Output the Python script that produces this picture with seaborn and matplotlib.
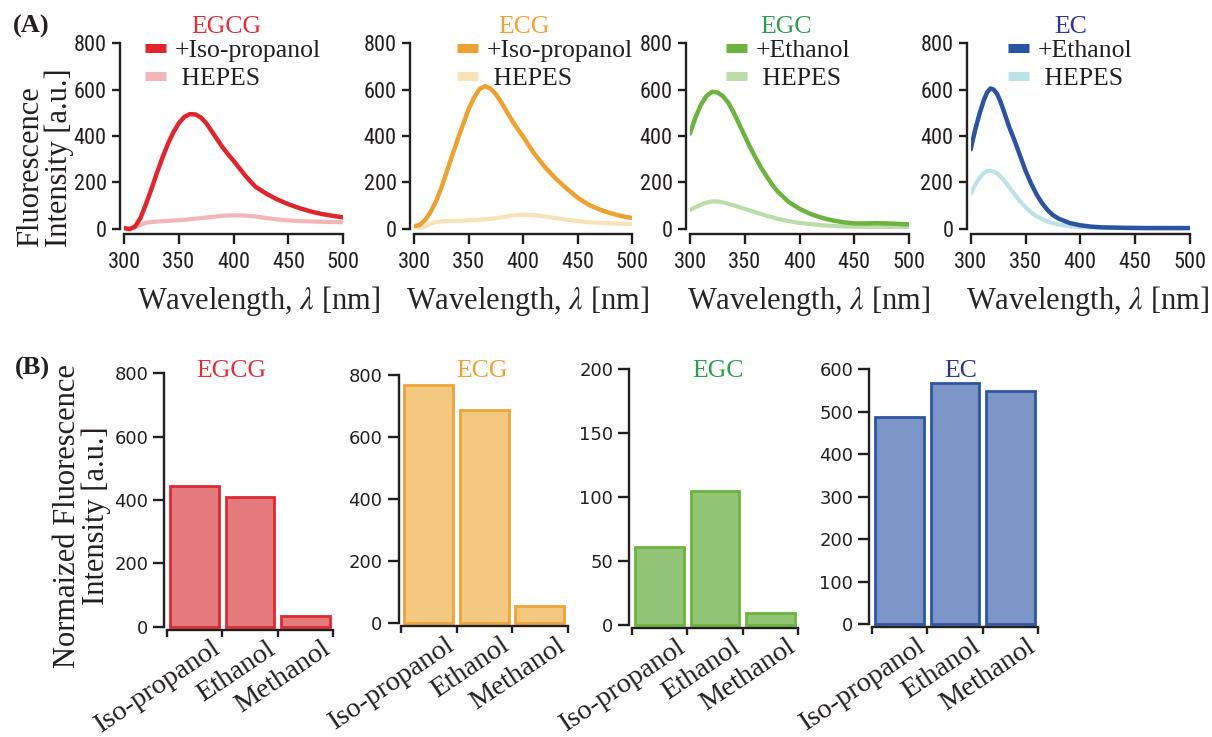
import matplotlib
matplotlib.use("Agg")
import matplotlib.pyplot as plt
import matplotlib.transforms as mtransforms
import seaborn as sns

# ---------------------------------------------------------------- data
# (A) emission spectra, wavelength [nm] vs. intensity [a.u.]
wl_egcg = [300, 305, 310, 315, 320, 325, 330, 335, 340, 345, 350, 355, 360, 365,
           370, 375, 380, 385, 390, 395, 400, 405, 410, 415, 420, 430, 440, 450,
           460, 470, 480, 490, 500]
egcg_solvent = [2, -3, 8, 45, 105, 170, 240, 305, 365, 415, 455, 482, 494, 493,
                480, 455, 420, 385, 350, 320, 292, 262, 232, 205, 180, 150, 125, 105,
                88, 74, 63, 55, 48]
wl_egcg_hepes = [300, 305, 310, 315, 320, 325, 330, 340, 350, 360, 370, 380, 390,
                 400, 410, 420, 430, 440, 450, 460, 480, 500]
egcg_hepes = [3, 0, 5, 15, 25, 28, 30, 33, 36, 40, 45, 50, 55,
              57, 56, 52, 45, 39, 35, 32, 29, 27]

wl_ecg = [300, 305, 310, 315, 320, 325, 330, 335, 340, 345, 350, 355, 360, 365,
          370, 375, 380, 385, 390, 395, 400, 405, 410, 415, 420, 430, 440, 450,
          460, 470, 480, 490, 500]
ecg_solvent = [10, 15, 35, 70, 115, 175, 245, 315, 385, 450, 515, 565, 602, 615,
               605, 580, 545, 505, 465, 430, 397, 360, 325, 295, 265, 215, 172, 133,
               103, 82, 66, 54, 45]
wl_ecg_hepes = [300, 305, 310, 315, 320, 330, 340, 350, 360, 370, 380, 390, 400,
                410, 420, 430, 440, 450, 460, 480, 500]
ecg_hepes = [8, 2, 8, 20, 28, 32, 33, 35, 38, 42, 48, 56, 60,
             58, 52, 45, 38, 32, 27, 22, 20]

wl_egc = [300, 305, 310, 315, 320, 325, 330, 335, 340, 345, 350, 355, 360, 365,
          370, 375, 380, 390, 400, 410, 420, 430, 440, 450, 460, 470, 480, 490, 500]
egc_solvent = [410, 480, 535, 572, 590, 588, 572, 543, 500, 450, 400, 350, 305, 262,
               225, 190, 160, 115, 85, 63, 47, 35, 27, 22, 22, 23, 22, 20, 18]
wl_egc_hepes = [300, 305, 310, 315, 320, 325, 330, 340, 350, 360, 370, 380, 390,
                400, 420, 440, 460, 480, 500]
egc_hepes = [80, 92, 103, 112, 117, 117, 113, 100, 85, 70, 55, 42, 32,
             24, 14, 9, 7, 7, 7]

wl_ec = [300, 304, 308, 312, 315, 318, 321, 324, 327, 330, 335, 340, 345, 350,
         355, 360, 365, 370, 375, 380, 390, 400, 410, 420, 440, 460, 480, 500]
ec_solvent = [342, 425, 495, 555, 588, 605, 600, 582, 550, 510, 440, 380, 315, 250,
              195, 148, 110, 80, 58, 43, 24, 14, 8, 5, 3, 2, 2, 2]
wl_ec_hepes = [300, 304, 308, 312, 315, 318, 321, 325, 330, 335, 340, 345, 350,
               355, 360, 370, 380, 390, 400, 420, 440, 500]
ec_hepes = [150, 188, 218, 240, 248, 250, 246, 235, 210, 180, 148, 118, 92,
            70, 53, 30, 17, 10, 6, 3, 2, 1]

compounds = ["EGCG", "ECG", "EGC", "EC"]
spectrum_solvents = ["+Iso-propanol", "+Iso-propanol", "+Ethanol", "+Ethanol"]
wavelength_ticks = [300, 350, 400, 450, 500]
spectrum_ticks = [0, 200, 400, 600, 800]

# (B) normalized fluorescence intensity per alcohol
solvents = ["Iso-propanol", "Ethanol", "Methanol"]
egcg_norm = [445, 408, 33]
ecg_norm = [768, 687, 56]
egc_norm = [61, 105, 9.5]
ec_norm = [487, 568, 550]
bar_ticks = [[0, 200, 400, 600, 800], [0, 200, 400, 600, 800],
             [0, 50, 100, 150, 200], [0, 100, 200, 300, 400, 500, 600]]

# ---------------------------------------------------------------- style
main_colors = ["#e0262d", "#eda131", "#6cb43f", "#2b54a0"]
hepes_colors = ["#f2b5b8", "#f8e3b8", "#bcdcaa", "#bce2e8"]
title_colors = ["#e0303a", "#f0a035", "#2f9e50", "#2e3590"]
bar_fill = ["#e47a7c", "#f2c97e", "#92c476", "#7c94c6"]
bar_edge = ["#dc2a35", "#eea33a", "#6db43f", "#2d56a2"]

sns.set_theme(style="ticks")
plt.rcParams["font.family"] = ["Liberation Serif", "DejaVu Serif"]
plt.rcParams["mathtext.fontset"] = "stix"
plt.rcParams["axes.edgecolor"] = "#231f20"
plt.rcParams["xtick.color"] = "#231f20"
plt.rcParams["ytick.color"] = "#231f20"
plt.rcParams["text.color"] = "#231f20"

W, H = 1212, 737
fig = plt.figure(figsize=(W / 100, H / 100), dpi=100)


def add_px_axes(x0, x1, ytop, ybot):
    return fig.add_axes([x0 / W, 1 - ybot / H, (x1 - x0) / W, (ybot - ytop) / H])


narrow = ["Roboto Condensed", "Liberation Sans"]

# ---------------------------------------------------------------- (A)
spectra = [
    (wl_egcg, egcg_solvent, wl_egcg_hepes, egcg_hepes),
    (wl_ecg, ecg_solvent, wl_ecg_hepes, ecg_hepes),
    (wl_egc, egc_solvent, wl_egc_hepes, egc_hepes),
    (wl_ec, ec_solvent, wl_ec_hepes, ec_hepes),
]
top_x = [(124, 343.3), (414, 632.3), (690, 909), (970.7, 1190)]
top_title_cx = [226, 524, 786, 1071]
top_xlabel_cx = [258.5, 527.5, 809, 1088]
legend_left = [145, 457, 726, 1008]
ytop_a, ybot_a = 43.3, 234.3

for i, (wl_s, y_s, wl_h, y_h) in enumerate(spectra):
    x0, x1 = top_x[i]
    ax = add_px_axes(x0, x1, ytop_a, ybot_a)
    sns.lineplot(x=wl_h, y=y_h, ax=ax, color=hepes_colors[i], linewidth=3.0)
    sns.lineplot(x=wl_s, y=y_s, ax=ax, color=main_colors[i], linewidth=3.2)
    ax.set_xlim(300, 500)
    ax.set_ylim(-25, 800)
    ax.set_xticks(wavelength_ticks)
    ax.set_yticks(spectrum_ticks)
    sns.despine(ax=ax)
    ax.spines["left"].set_position(("outward", 3))
    ax.spines["left"].set_bounds(0, 800)
    ax.spines["bottom"].set_bounds(300, 500)
    for sp in ("left", "bottom"):
        ax.spines[sp].set_linewidth(1.7)
    ax.tick_params(axis="y", length=6, width=1.7, pad=3.5, labelsize=16)
    ax.tick_params(axis="x", length=7, width=1.7, pad=5.5, labelsize=16)
    for lab in ax.get_xticklabels() + ax.get_yticklabels():
        lab.set_family(narrow)

    ax.set_xlabel("Wavelength, $\\lambda$ [nm]", fontsize=22, va="top")
    ax.xaxis.set_label_coords((top_xlabel_cx[i] - x0) / (x1 - x0),
                              (ybot_a - 284) / (ybot_a - ytop_a))
    ax.set_ylabel("")
    ax.set_title(compounds[i], color=title_colors[i], fontsize=18.5,
                 x=(top_title_cx[i] - x0) / (x1 - x0),
                 y=(ybot_a - 33) / (ybot_a - ytop_a), va="baseline", pad=0)

    handles = ax.get_lines()[::-1]
    leg = ax.legend(handles, [spectrum_solvents[i], " HEPES"], loc="upper left",
                    bbox_to_anchor=(legend_left[i] / W, 1 - 39 / H),
                    bbox_transform=fig.transFigure, frameon=False, fontsize=18.5,
                    borderpad=0, borderaxespad=0, handlelength=0.8,
                    handletextpad=0.35, labelspacing=0.2)
    for h in leg.get_lines():
        h.set_linewidth(6.5)
        h.set_solid_capstyle("butt")

fig.text(45 / W, 1 - 247 / H, "Fluorescence\nIntensity [a.u.]", rotation=90,
         ha="center", va="bottom", multialignment="left", fontsize=22,
         linespacing=0.95)
fig.text(13 / W, 1 - 33 / H, "(A)", fontsize=19, fontweight="bold", va="baseline")

# ---------------------------------------------------------------- (B)
norm_values = [egcg_norm, ecg_norm, egc_norm, ec_norm]
bottom_x = [(166.7, 333.3), (401, 567.7), (631.7, 798.3), (871.7, 1038.3)]
bottom_top = [373.3, 375, 369.3, 369.3]
bottom_zero = [626.7, 623.3, 625, 624.3]
bottom_title_cx = [231.7, 482.5, 718, 960.5]
spine_gap = 3.0
label_shift = mtransforms.ScaledTranslation(-12 / 100, 1 / 100, fig.dpi_scale_trans)

for i, vals in enumerate(norm_values):
    x0, x1 = bottom_x[i]
    ymax = bar_ticks[i][-1]
    ytop, yzero = bottom_top[i], bottom_zero[i]
    ybot = yzero + spine_gap
    ax = add_px_axes(x0, x1, ytop, ybot)
    sns.barplot(x=solvents, y=vals, ax=ax, color=bar_fill[i], saturation=1,
                edgecolor=bar_edge[i], linewidth=2, width=0.88)
    ax.set_xlim(-0.5, 2.5)
    ax.set_ylim(-spine_gap * ymax / (yzero - ytop), ymax)
    ax.set_yticks(bar_ticks[i])
    ax.set_xticks([-0.5, 0.5, 1.5, 2.5])
    sns.despine(ax=ax)
    ax.spines["left"].set_position(("outward", 1.8))
    ax.spines["left"].set_bounds(0, ymax)
    for sp in ("left", "bottom"):
        ax.spines[sp].set_linewidth(1.7)
    ax.tick_params(axis="y", length=8, width=1.7, pad=3.5, labelsize=13)
    ax.tick_params(axis="x", length=5, width=1.7, pad=0.5)
    ax.set_xticklabels([""] + solvents, rotation=34, ha="right", va="top",
                       rotation_mode="anchor", fontsize=20.5)
    for tick in ax.xaxis.get_major_ticks():
        tick.label1.set_transform(tick.label1.get_transform() + label_shift)
    for lab in ax.get_yticklabels():
        lab.set_family("DejaVu Sans")
    ax.set_xlabel("")
    ax.set_ylabel("")
    ax.set_title(compounds[i], color=title_colors[i], fontsize=18.5,
                 x=(bottom_title_cx[i] - x0) / (x1 - x0),
                 y=(ybot - 377) / (ybot - ytop), va="baseline", pad=0)

fig.text(82 / W, 1 - 516 / H, "Normaized Fluorescence\nIntensity [a.u.]",
         rotation=90, ha="center", va="center", multialignment="center",
         fontsize=22, linespacing=0.95)
fig.text(15 / W, 1 - 375 / H, "(B)", fontsize=19, fontweight="bold", va="baseline")

fig.savefig("out.png", dpi=100)
